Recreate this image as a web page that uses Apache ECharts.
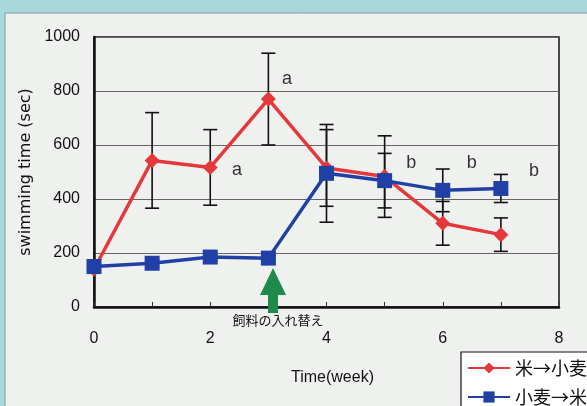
<!DOCTYPE html>
<html>
<head>
<meta charset="utf-8">
<script src="https://cdn.jsdelivr.net/npm/echarts@6/dist/echarts.min.js"></script>
<style>
  html, body { margin: 0; padding: 0; }
  #chart { width: 587px; height: 406px; }
</style>
</head>
<body>
<div id="chart"></div>
<script>
// Weeks on the x axis
const weeks = [0, 1, 2, 3, 4, 5, 6, 7];
// Rice -> wheat group: mean swimming time (sec) and error half-width
const riceToWheat = [140, 543, 517, 770, 515, 483, 310, 268];
const riceToWheatErr = [15, 177, 140, 170, 142, 151, 81, 62];
// Wheat -> rice group
const wheatToRice = [150, 162, 185, 181, 495, 468, 432, 439];
const wheatToRiceErr = [12, 12, 12, 12, 181, 101, 79, 52];
// Significance letters and where they sit (week, sec)
const sigLetters = ['a', 'a', 'b', 'b', 'b'];
const sigWeek = [3.32, 2.46, 5.46, 6.5, 7.57];
const sigSec = [846, 506, 532, 532, 502];
// Feed switch marker
const switchWeek = 3.08;
const switchLabel = '飼料の入れ替え';
const seriesNames = ['米→小麦', '小麦→米'];

const RED = '#e5383b';
const BLUE = '#2140a6';

function pairs(ys) { return weeks.map((w, i) => [w, ys[i]]); }
function errData(ys, es) { return weeks.map((w, i) => [w, ys[i] - es[i], ys[i] + es[i]]); }

function errRender(params, api) {
  const x = api.value(0);
  const lo = api.coord([x, api.value(1)]);
  const hi = api.coord([x, api.value(2)]);
  const hw = 7;
  const st = { stroke: '#111', lineWidth: 1.6 };
  return {
    type: 'group',
    children: [
      { type: 'line', shape: { x1: lo[0], y1: lo[1], x2: hi[0], y2: hi[1] }, style: st },
      { type: 'line', shape: { x1: lo[0] - hw, y1: lo[1], x2: lo[0] + hw, y2: lo[1] }, style: st },
      { type: 'line', shape: { x1: hi[0] - hw, y1: hi[1], x2: hi[0] + hw, y2: hi[1] }, style: st }
    ]
  };
}

const chart = echarts.init(document.getElementById('chart'));
const font = '"Liberation Sans", Arial, sans-serif';
const cjk = '"Noto Sans CJK JP", sans-serif';

chart.setOption({
  backgroundColor: '#a8d8dc',
  animation: false,
  graphic: [
    { type: 'rect', z: -10, shape: { x: 5, y: 13, width: 620, height: 420 },
      style: { fill: '#eff1ef', stroke: '#7f9ea0', lineWidth: 1 } }
  ],
  grid: { left: 94, top: 37, right: 28, bottom: 99, show: true,
          borderColor: '#111', borderWidth: 1.5, backgroundColor: 'transparent' },
  xAxis: {
    type: 'value', min: 0, max: 8, interval: 1,
    name: 'Time(week)', nameLocation: 'middle', nameGap: 63,
    nameTextStyle: { fontFamily: font, fontSize: 16, color: '#111', padding: [0, 0, 0, 12] },
    axisLine: { show: true, onZero: false, lineStyle: { color: '#111', width: 2.5 } },
    axisTick: { show: true, inside: true, length: 5, lineStyle: { color: '#333' } },
    axisLabel: { fontFamily: font, fontSize: 16, color: '#111', margin: 24,
                 formatter: v => (v % 2 === 0 ? String(v) : '') },
    splitLine: { show: false }
  },
  yAxis: {
    type: 'value', min: 0, max: 1000, interval: 200,
    name: 'swimming time (sec)', nameLocation: 'middle', nameGap: 58,
    nameTextStyle: { fontFamily: '"DejaVu Sans", sans-serif', fontSize: 16, color: '#111' },
    axisLine: { show: true, lineStyle: { color: '#111', width: 2.5 } },
    axisTick: { show: false },
    axisLabel: { fontFamily: font, fontSize: 16, color: '#111', margin: 14,
                 formatter: v => String(v) },
    splitLine: { show: true, lineStyle: { color: '#666', width: 1 } }
  },
  legend: {
    orient: 'vertical', left: 461, top: 352, width: 160, height: 90,
    padding: [7, 60, 20, 6], itemGap: 11, itemWidth: 42, itemHeight: 14,
    backgroundColor: '#ffffff', borderColor: '#111', borderWidth: 1.2,
    textStyle: { fontFamily: cjk, fontSize: 18, color: '#111' },
    data: seriesNames
  },
  series: [
    { type: 'custom', name: 'err1', renderItem: errRender, z: 1,
      data: errData(riceToWheat, riceToWheatErr) },
    { type: 'custom', name: 'err2', renderItem: errRender, z: 1,
      data: errData(wheatToRice, wheatToRiceErr) },
    { type: 'line', name: seriesNames[0], z: 3, data: pairs(riceToWheat),
      symbol: 'diamond', symbolSize: 15, showAllSymbol: true,
      lineStyle: { color: RED, width: 3.5 }, itemStyle: { color: RED } },
    { type: 'line', name: seriesNames[1], z: 4, data: pairs(wheatToRice),
      symbol: 'rect', symbolSize: 15,
      lineStyle: { color: BLUE, width: 3.5 }, itemStyle: { color: BLUE },
      markPoint: {
        symbol: 'path://M13,0 L26,27 L18,27 L18,45 L8,45 L8,27 L0,27 Z',
        symbolSize: [26, 45], silent: true,
        itemStyle: { color: '#1e8a4c' },
        label: { show: true, position: 'bottom', distance: 1, offset: [5, 0],
                 formatter: switchLabel, fontFamily: cjk, fontSize: 13, color: '#111' },
        data: [{ coord: [switchWeek, 61] }]
      } },
    { type: 'scatter', name: 'letters', z: 5, symbolSize: 0, silent: true,
      data: sigLetters.map((t, i) => ({ value: [sigWeek[i], sigSec[i]], name: t })),
      label: { show: true, position: 'inside', formatter: p => p.name,
               fontFamily: font, fontSize: 18, color: '#000' } }
  ]
});
</script>
</body>
</html>
